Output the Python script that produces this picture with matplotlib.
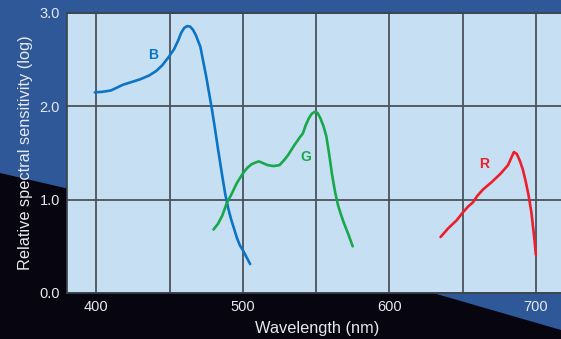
import numpy as np
import matplotlib
matplotlib.use("Agg")
import matplotlib.pyplot as plt
from matplotlib.patches import Polygon

plt.rcParams['font.family'] = ['Liberation Sans', 'DejaVu Sans']

# curves (wavelength nm, log relative sensitivity)
b_wl = [399, 404, 410, 414, 418, 424, 430, 436, 441, 445, 449, 453, 456, 458, 460, 462, 464, 466, 468, 471,
        473, 475, 477, 479, 481, 483, 486, 488, 490, 492, 494, 496, 498, 500, 502, 505]
b_val = [2.15, 2.155, 2.17, 2.20, 2.23, 2.26, 2.29, 2.33, 2.38, 2.44, 2.52, 2.61, 2.71, 2.79, 2.84, 2.86, 2.855, 2.82, 2.76, 2.64,
         2.48, 2.32, 2.14, 1.96, 1.76, 1.55, 1.25, 1.06, 0.91, 0.79, 0.69, 0.59, 0.51, 0.46, 0.40, 0.31]

g_wl = [480, 483, 486, 489, 492, 496, 500, 503, 506, 509, 511, 514, 517, 521, 525, 528, 531, 535, 539, 541, 543, 545, 547,
        549, 551, 553, 555, 557, 559, 561, 563, 565, 567, 569, 572, 575]
g_val = [0.68, 0.74, 0.83, 0.96, 1.05, 1.18, 1.28, 1.34, 1.38, 1.40, 1.41, 1.39, 1.37, 1.36, 1.37, 1.42, 1.48, 1.58, 1.67, 1.71, 1.80, 1.87, 1.92,
         1.94, 1.93, 1.87, 1.79, 1.68, 1.48, 1.26, 1.08, 0.94, 0.84, 0.75, 0.63, 0.50]

r_wl = [635, 640, 646, 650, 654, 657, 660, 664, 670, 676, 681, 683, 685, 687, 689, 691, 693, 695, 697, 698, 699, 700]
r_val = [0.60, 0.69, 0.78, 0.86, 0.93, 0.97, 1.04, 1.11, 1.19, 1.28, 1.37, 1.44, 1.51, 1.49, 1.42, 1.33, 1.20, 1.05, 0.86, 0.72, 0.58, 0.41]

labels = ['B', 'G', 'R']
label_pos = [(439, 2.55), (543, 1.46), (665, 1.38)]
colors = ['#0b74c4', '#17a84b', '#ec1f2b']

W, H = 561, 339
fig = plt.figure(figsize=(W / 100, H / 100), dpi=100)
fig.patch.set_facecolor('#2e5897')

# dark diagonal band in the lower part of the background
pts = [(0, 173), (65, 188), (440, 295), (561, 330), (561, 339), (0, 339)]
band = Polygon([(x / W, 1 - y / H) for x, y in pts], closed=True,
               transform=fig.transFigure, facecolor='#07050f',
               edgecolor='none', zorder=-5)
fig.patches.append(band)

ax = fig.add_axes([67 / W, 46 / H, (W - 67) / W + 0.01, 280 / H])
ax.set_zorder(2)
ax.set_facecolor('#c7dff3')
ax.set_xlim(380, 721)
ax.set_ylim(0, 3)

for wl, val, c in zip([b_wl, g_wl, r_wl], [b_val, g_val, r_val], colors):
    ax.plot(wl, val, color=c, lw=1.9, solid_capstyle='round', solid_joinstyle='round')
for lab, (x, y), c in zip(labels, label_pos, colors):
    ax.text(x, y, lab, color=c, fontsize=10, fontweight='bold', ha='center', va='center')

ax.set_xticks([400, 500, 600, 700])
ax.set_xticks([450, 550, 650], minor=True)
ax.set_yticks([0, 1, 2, 3])
ax.set_yticklabels(['0.0', '1.0', '2.0', '3.0'])
ax.grid(True, which='both', color='#4c535b', lw=1.3)
ax.set_axisbelow(True)
ax.tick_params(which='both', length=0, colors='#e6e9ee', labelsize=10.5, pad=5)

for s in ['left', 'top', 'bottom']:
    ax.spines[s].set_color('#3c434a')
    ax.spines[s].set_linewidth(1.2)
ax.spines['right'].set_visible(False)

ax.set_xlabel('Wavelength (nm)', color='#e6e9ee', fontsize=11.8, labelpad=5)
ax.set_ylabel('Relative spectral sensitivity (log)', color='#e6e9ee', fontsize=11.8, labelpad=5)

fig.savefig('out.png', dpi=100, facecolor=fig.get_facecolor())
